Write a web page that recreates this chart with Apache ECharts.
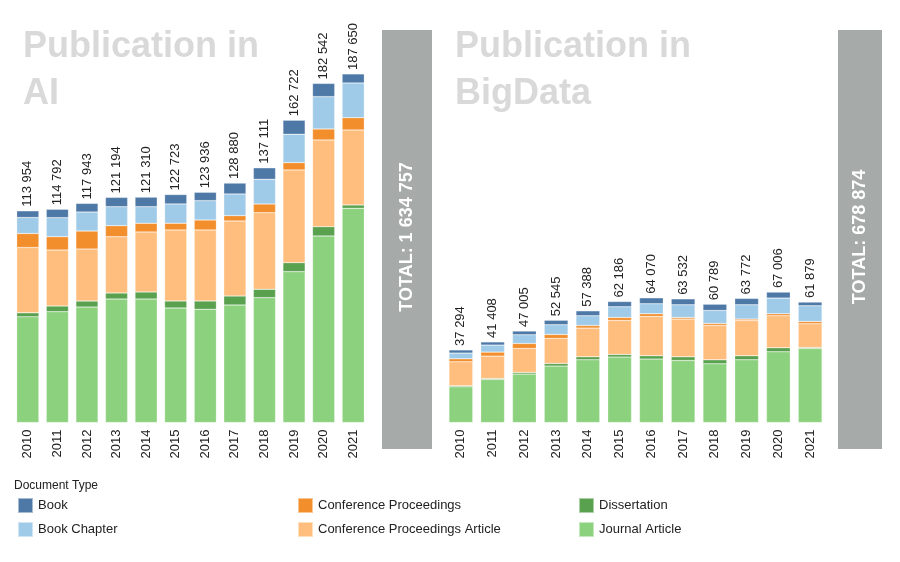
<!DOCTYPE html>
<html>
<head>
<meta charset="utf-8">
<script src="https://cdn.jsdelivr.net/npm/echarts@6/dist/echarts.min.js"></script>
<style>
  html, body {margin: 0; padding: 0; background: #fff;}
  #chart {width: 900px; height: 562px;}
</style>
</head>
<body>
<div id="chart"></div>
<script>
const years = ['2010', '2011', '2012', '2013', '2014', '2015', '2016', '2017', '2018', '2019', '2020', '2021'];

// Publication in AI
const aiTotals = [113954, 114792, 117943, 121194, 121310, 122723, 123936, 128880, 137111, 162722, 182542, 187650];
const aiJournal = [56900, 59650, 62160, 66490, 66490, 61650, 60950, 63260, 67190, 81190, 100410, 115320];
const aiDissertation = [2150, 3070, 3230, 3230, 3770, 3770, 4470, 4850, 4520, 4850, 5010, 1780];
const aiConfArticle = [35150, 30150, 28000, 30310, 32300, 38230, 38230, 40380, 41240, 49910, 46680, 40380];
const aiConf = [7540, 7160, 9690, 5920, 4680, 3610, 5380, 2850, 4680, 3930, 5920, 6620];
const aiChapter = [8610, 10230, 10230, 10230, 8940, 10390, 10390, 11680, 13300, 15290, 17390, 18680];
const aiBook = [3604, 4532, 4633, 5014, 5130, 5073, 4516, 5860, 6181, 7552, 7132, 4870];

// Publication in BigData
const bdTotals = [37294, 41408, 47005, 52545, 57388, 62186, 64070, 63532, 60789, 63772, 67006, 61879];
const bdJournal = [18350, 22100, 24880, 28990, 32230, 33620, 32590, 31870, 30170, 32230, 36340, 38040];
const bdDissertation = [510, 510, 820, 1340, 1540, 1340, 1700, 1900, 2060, 2060, 2060, 510];
const bdConfArticle = [12340, 11510, 12340, 12850, 14750, 17480, 20200, 19380, 17630, 18140, 16450, 12180];
const bdConf = [1540, 2060, 2570, 2060, 1340, 1540, 1390, 820, 1030, 720, 1030, 1180];
const bdChapter = [2930, 3600, 4470, 4990, 4990, 5500, 5140, 6530, 6680, 7350, 8070, 8070];
const bdBook = [1624, 1628, 1925, 2315, 2538, 2706, 3050, 3032, 3219, 3272, 3056, 1899];

const font = "'Liberation Sans', Arial, sans-serif";
const colors = {
    'Book': '#4e79a7',
    'Book Chapter': '#a0cbe8',
    'Conference Proceedings': '#f28e2b',
    'Conference Proceedings Article': '#ffbe7d',
    'Dissertation': '#59a14f',
    'Journal Article': '#8cd17d'
};

const fmt = v => String(v).replace(/\B(?=(\d{3})+(?!\d))/g, ' ');
const sum = arr => arr.reduce((a, b) => a + b, 0);

function stackSeries(idx, stack, parts, totals) {
    return parts.map(([name, data], i) => {
        const s = {
            name: name,
            type: 'bar',
            stack: stack,
            xAxisIndex: idx,
            yAxisIndex: idx,
            data: data,
            barCategoryGap: '25%',
            itemStyle: {color: colors[name], borderColor: 'rgba(255,255,255,0.5)', borderWidth: 0.5},
            emphasis: {disabled: true}
        };
        if (i === parts.length - 1) {
            s.label = {
                show: true,
                position: 'top',
                rotate: 90,
                align: 'left',
                verticalAlign: 'middle',
                distance: 4,
                fontSize: 13,
                fontFamily: font,
                color: '#222',
                formatter: p => fmt(totals[p.dataIndex])
            };
        }
        return s;
    });
}

const xAxisBase = {
    type: 'category',
    data: years,
    axisLine: {show: false},
    axisTick: {show: false},
    axisLabel: {rotate: 90, fontSize: 13, fontFamily: font, color: '#222', margin: 7}
};
const yAxisBase = {type: 'value', min: 0, show: false, splitLine: {show: false}};

const legendBase = {
    orient: 'vertical',
    icon: 'rect',
    itemWidth: 15,
    itemHeight: 15,
    itemGap: 7,
    top: 497,
    padding: 0,
    textStyle: {fontSize: 13, fontFamily: font, color: '#222'},
    selectedMode: false
};

function totalBox(x, w, total) {
    return [
        {type: 'rect', shape: {x: x, y: 30, width: w, height: 419}, style: {fill: '#a6aaa9'}},
        {
            type: 'text',
            x: x + w / 2,
            y: 237,
            rotation: Math.PI / 2,
            style: {
                text: 'TOTAL: ' + fmt(total),
                fill: '#fff',
                font: 'bold 18px ' + font,
                textAlign: 'center',
                textVerticalAlign: 'middle'
            }
        }
    ];
}

const titleStyle = {fontSize: 36, lineHeight: 47, fontWeight: 'bold', fontFamily: font, color: '#d9d9d9'};

const option = {
    animation: false,
    title: [
        {text: 'Publication in\nAI', left: 23, top: 24, padding: 0, textStyle: titleStyle},
        {text: 'Publication in\nBigData', left: 455, top: 24, padding: 0, textStyle: titleStyle}
    ],
    grid: [
        {left: 13, width: 355, top: 30, bottom: 139.5},
        {left: 445, width: 381, top: 30, bottom: 139.5}
    ],
    xAxis: [
        Object.assign({gridIndex: 0}, xAxisBase),
        Object.assign({gridIndex: 1}, xAxisBase)
    ],
    yAxis: [
        Object.assign({gridIndex: 0, max: 211300}, yAxisBase),
        Object.assign({gridIndex: 1, max: 201700}, yAxisBase)
    ],
    legend: [
        Object.assign({left: 17, data: ['Book', 'Book Chapter']}, legendBase),
        Object.assign({left: 297, data: ['Conference Proceedings', 'Conference Proceedings Article']}, legendBase),
        Object.assign({left: 578, data: ['Dissertation', 'Journal Article']}, legendBase)
    ],
    graphic: [
        {type: 'text', x: 14, y: 480,
            style: {text: 'Document Type', font: '12px ' + font, fill: '#222'}},
        ...totalBox(382, 50, sum(aiTotals)),
        ...totalBox(838, 44, sum(bdTotals))
    ],
    series: [
        ...stackSeries(0, 'ai', [
            ['Journal Article', aiJournal],
            ['Dissertation', aiDissertation],
            ['Conference Proceedings Article', aiConfArticle],
            ['Conference Proceedings', aiConf],
            ['Book Chapter', aiChapter],
            ['Book', aiBook]
        ], aiTotals),
        ...stackSeries(1, 'bd', [
            ['Journal Article', bdJournal],
            ['Dissertation', bdDissertation],
            ['Conference Proceedings Article', bdConfArticle],
            ['Conference Proceedings', bdConf],
            ['Book Chapter', bdChapter],
            ['Book', bdBook]
        ], bdTotals)
    ]
};

const chart = echarts.init(document.getElementById('chart'));
chart.setOption(option);
</script>
</body>
</html>
